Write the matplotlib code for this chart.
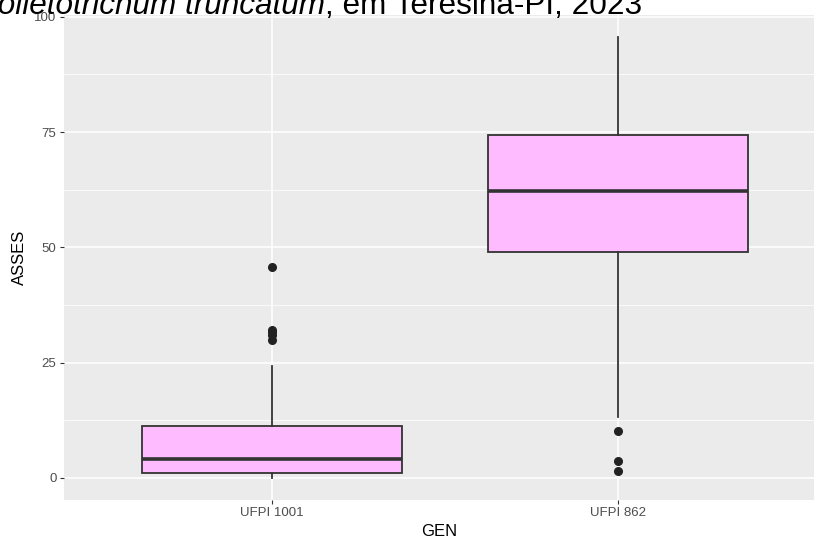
import matplotlib
matplotlib.use("Agg")
import matplotlib.pyplot as plt
from matplotlib.ticker import MultipleLocator

plt.rcParams['font.family'] = ['Liberation Sans', 'DejaVu Sans']

# ---- data ----
categories = ["UFPI 1001", "UFPI 862"]
whisker_low = [0.0, 13.2]
q1_values = [1.1, 49.0]
medians = [4.2, 62.2]
q3_values = [11.2, 74.4]
whisker_high = [24.2, 95.6]
outliers = [[45.7, 32.1, 31.6, 30.9, 30.0], [10.1, 3.7, 1.4]]
y_ticks = [0, 25, 50, 75, 100]
title_italic = "Colletotrichum truncatum"
title_rest = ", em Teresina-PI, 2023"
x_label = "GEN"
y_label = "ASSES"

W, H = 814, 538
fig = plt.figure(figsize=(W / 100, H / 100), dpi=100)
ax = fig.add_axes([64 / W, (H - 500) / H, (W - 64) / W, 485 / H])

ax.set_facecolor("#EBEBEB")
for s in ax.spines.values():
    s.set_visible(False)

stats = []
for i, c in enumerate(categories):
    stats.append(dict(label=c, whislo=whisker_low[i], q1=q1_values[i], med=medians[i],
                      q3=q3_values[i], whishi=whisker_high[i], fliers=outliers[i]))

ax.bxp(stats, positions=[1, 2], widths=0.75, patch_artist=True, showcaps=False,
       boxprops=dict(facecolor="#FFBBFF", edgecolor="#333333", linewidth=1.3),
       whiskerprops=dict(color="#333333", linewidth=1.3),
       medianprops=dict(color="#333333", linewidth=2.6, solid_capstyle="butt"),
       flierprops=dict(marker="o", markerfacecolor="#222222", markeredgecolor="#222222",
                       markersize=5.5, linestyle="none"),
       zorder=3)

ax.set_xlim(0.401, 2.565)
ax.set_ylim(-4.78, 100.38)
ax.set_yticks(y_ticks)
ax.yaxis.set_minor_locator(MultipleLocator(12.5))
ax.set_xticks([1, 2])
ax.set_xticklabels(categories)

ax.grid(which="major", color="white", linewidth=1.1, zorder=0)
ax.grid(which="minor", axis="y", color="white", linewidth=0.55, zorder=0)
ax.set_axisbelow(True)

ax.tick_params(axis="both", which="major", length=3.2, width=0.8, color="#333333",
               labelcolor="#4D4D4D", labelsize=9.5, pad=2.2)
ax.tick_params(axis="both", which="minor", length=0)

ax.set_xlabel(x_label, fontsize=12, color="black", labelpad=3)
ax.set_ylabel(y_label, fontsize=12, color="black", labelpad=5)

# title, cropped at the top-left of the image
t2 = fig.text(642 / W, 1 - 14 / H, title_rest, ha="right", va="baseline", fontsize=22.7)
ax.annotate(title_italic, xy=(0, 0), xycoords=t2, ha="right", va="bottom",
            fontsize=22.7, style="italic", annotation_clip=False)

fig.savefig("out.png", dpi=100)
